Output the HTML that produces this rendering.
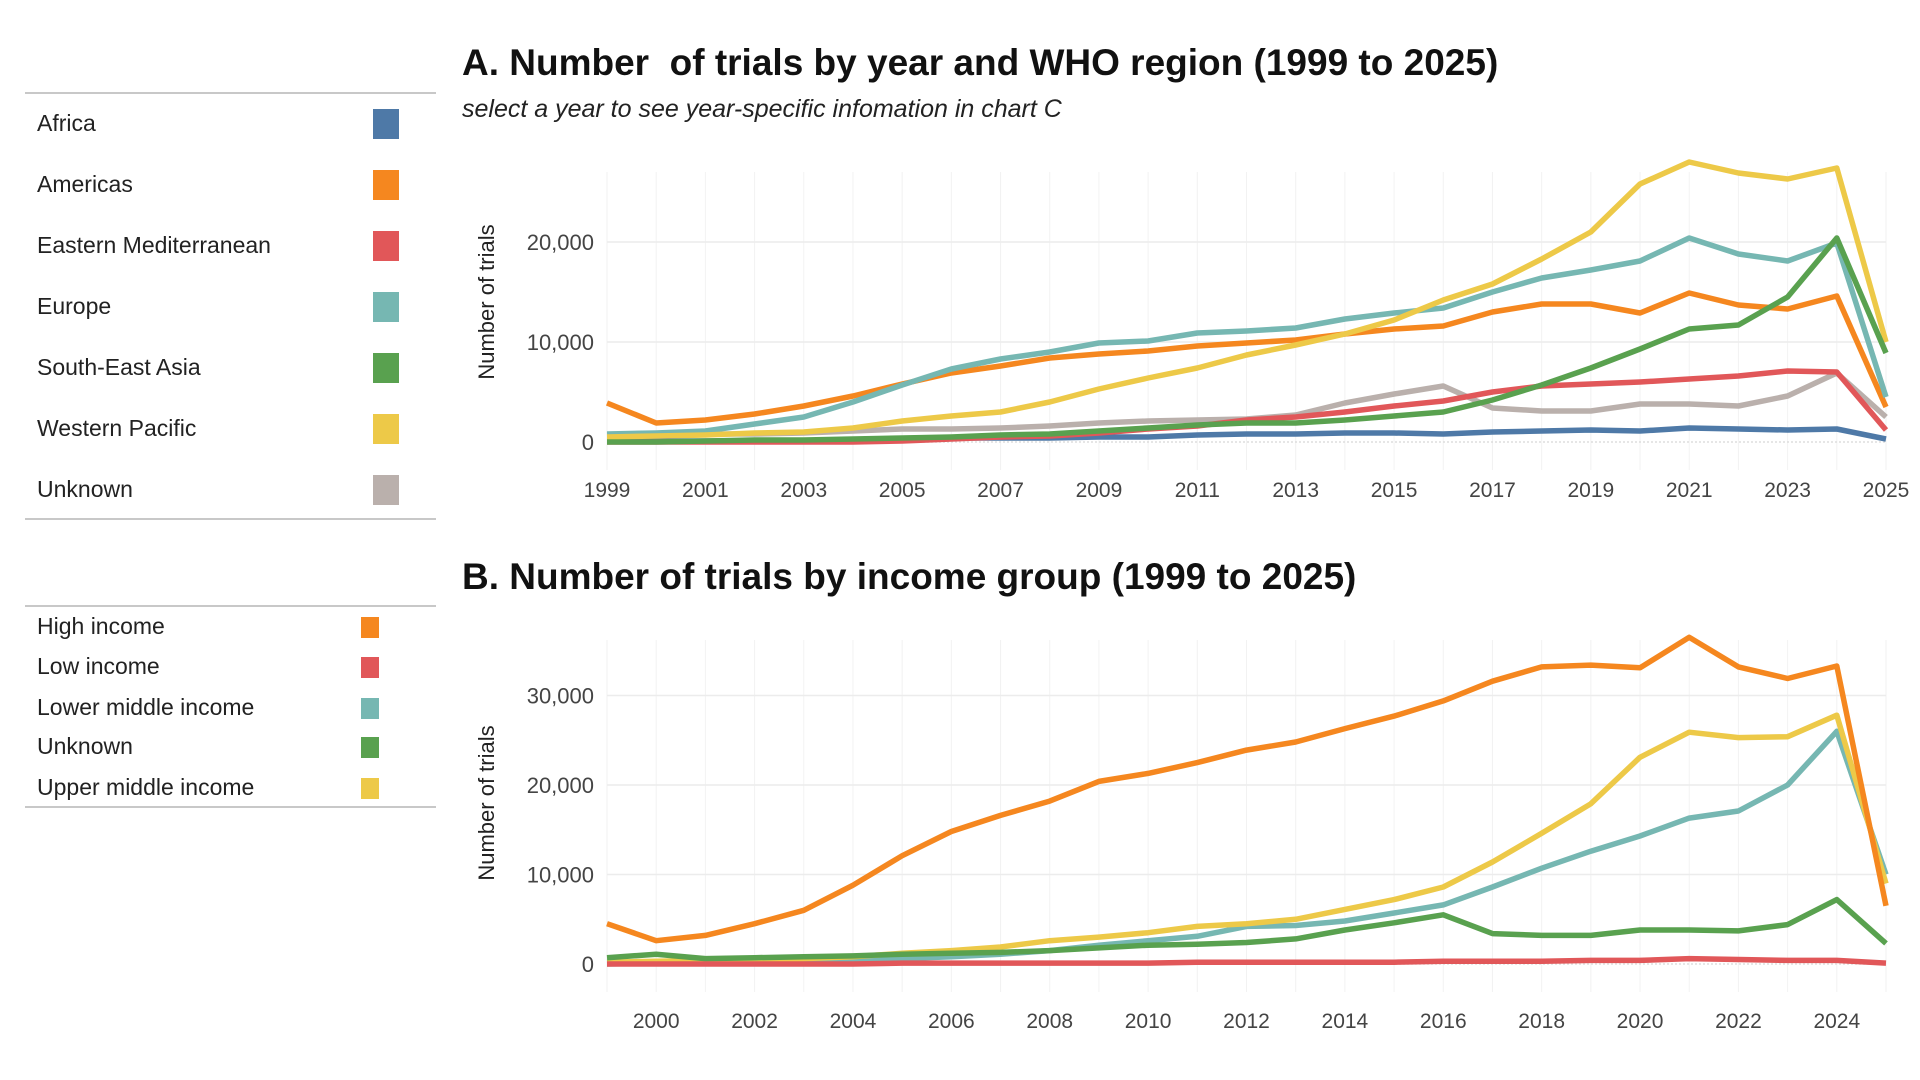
<!DOCTYPE html>
<html><head><meta charset="utf-8"><style>
html,body{margin:0;padding:0;background:#fff;width:1920px;height:1080px;overflow:hidden;font-family:"Liberation Sans",sans-serif;}
#root{position:relative;width:1920px;height:1080px;}
.lg-line{position:absolute;left:25px;width:411px;height:2px;background:#c8c8c8;}
.lg-item{position:absolute;left:37px;font-size:23px;color:#222;}
.sw{position:absolute;}
.title{position:absolute;left:462px;font-size:37px;font-weight:bold;color:#111;z-index:2;}
.sub{position:absolute;left:462px;font-size:25px;font-style:italic;color:#222;z-index:2;}
svg{position:absolute;left:0;top:0;}
</style></head><body><div id="root">
<div class="lg-line" style="top:92px"></div>
<div class="lg-line" style="top:518px"></div>
<div class="lg-line" style="top:605px"></div>
<div class="lg-line" style="top:806px"></div>
<div id="legA"></div>
<div id="legB"></div>
<svg id="svg" width="1920" height="1080"></svg>
<div class="title" style="top:42px">A. Number&nbsp; of trials by year and WHO region (1999 to 2025)</div>
<div class="sub" style="top:95px">select a year to see year-specific infomation in chart C</div>
<div class="title" style="top:556px">B. Number of trials by income group (1999 to 2025)</div>
</div>
<script>
const years=[1999,2000,2001,2002,2003,2004,2005,2006,2007,2008,2009,2010,2011,2012,2013,2014,2015,2016,2017,2018,2019,2020,2021,2022,2023,2024,2025];
const regionNames=["Africa","Americas","Eastern Mediterranean","Europe","South-East Asia","Western Pacific","Unknown"];
const regionColors=["#4e79a7","#f5871f","#e15759","#76b7b2","#59a14f","#edc948","#bab0ac"];
const africa=[0.1,0.1,0.1,0.1,0.1,0.2,0.3,0.4,0.4,0.4,0.5,0.5,0.7,0.8,0.8,0.9,0.9,0.8,1.0,1.1,1.2,1.1,1.4,1.3,1.2,1.3,0.3];
const americas=[3.9,1.9,2.2,2.8,3.6,4.6,5.8,6.9,7.6,8.4,8.8,9.1,9.6,9.9,10.2,10.8,11.3,11.6,13.0,13.8,13.8,12.9,14.9,13.7,13.3,14.6,3.5];
const eastMed=[0,0,0,0,0,0,0.1,0.3,0.5,0.6,0.9,1.3,1.6,2.2,2.5,3.0,3.6,4.1,5.0,5.6,5.8,6.0,6.3,6.6,7.1,7.0,1.2];
const europe=[0.8,0.9,1.1,1.8,2.5,4.0,5.7,7.3,8.3,9.0,9.9,10.1,10.9,11.1,11.4,12.3,12.9,13.4,15.0,16.4,17.2,18.1,20.4,18.8,18.1,19.9,4.5];
const seAsia=[0,0,0.1,0.2,0.2,0.3,0.4,0.5,0.7,0.8,1.1,1.4,1.7,1.9,1.9,2.2,2.6,3.0,4.2,5.7,7.4,9.3,11.3,11.7,14.5,20.4,8.9];
const westPac=[0.5,0.6,0.7,0.9,1.0,1.4,2.1,2.6,3.0,4.0,5.3,6.4,7.4,8.7,9.7,10.8,12.2,14.2,15.8,18.3,21.0,25.8,28.0,26.9,26.3,27.4,10.0];
const unknownA=[0.7,0.8,0.8,0.8,0.9,1.1,1.3,1.3,1.4,1.6,1.9,2.1,2.2,2.3,2.7,3.9,4.8,5.6,3.4,3.1,3.1,3.8,3.8,3.6,4.6,6.9,2.5];
const incomeNames=["High income","Low income","Lower middle income","Unknown","Upper middle income"];
const incomeColors=["#f5871f","#e15759","#76b7b2","#59a14f","#edc948"];
const highInc=[4.5,2.6,3.2,4.5,6.0,8.8,12.1,14.8,16.6,18.2,20.4,21.3,22.5,23.9,24.8,26.3,27.7,29.4,31.6,33.2,33.4,33.1,36.5,33.2,31.9,33.3,6.5];
const lowInc=[0,0,0,0,0,0,0.1,0.1,0.1,0.1,0.1,0.1,0.2,0.2,0.2,0.2,0.2,0.3,0.3,0.3,0.4,0.4,0.6,0.5,0.4,0.4,0.1];
const lowerMid=[0,0.1,0.2,0.3,0.4,0.5,0.6,0.8,1.1,1.5,2.1,2.6,3.1,4.2,4.3,4.8,5.7,6.6,8.6,10.7,12.6,14.3,16.3,17.1,20.0,26.0,10.0];
const unknownB=[0.7,1.1,0.6,0.7,0.8,0.9,1.1,1.2,1.3,1.5,1.8,2.1,2.2,2.4,2.8,3.8,4.6,5.5,3.4,3.2,3.2,3.8,3.8,3.7,4.4,7.2,2.3];
const upperMid=[0.2,0.3,0.4,0.5,0.6,0.8,1.2,1.5,1.9,2.6,3.0,3.5,4.2,4.5,5.0,6.1,7.2,8.6,11.4,14.6,17.9,23.1,25.9,25.3,25.4,27.8,9.0];
const ticksA=[0,10000,20000];
const ticksB=[0,10000,20000,30000];
const xLabelsA=[1999,2001,2003,2005,2007,2009,2011,2013,2015,2017,2019,2021,2023,2025];
const xLabelsB=[2000,2002,2004,2006,2008,2010,2012,2014,2016,2018,2020,2022,2024];

const NS="http://www.w3.org/2000/svg";
const svg=document.getElementById('svg');
function mk(tag,attrs,parent){const e=document.createElementNS(NS,tag);for(const k in attrs)e.setAttribute(k,attrs[k]);(parent||svg).appendChild(e);return e;}
const x0=607,x1=1886;
function xs(y){return x0+(y-1999)*(x1-x0)/26;}

function chart(id,zeroY,pxPer10k,plotTop,ticks,xLabels,labelY,series,colors,names,titleY){
  const g=mk('g',{});
  
  
  const ys=v=>zeroY-v*1000*pxPer10k/10000;
  for(let y=1999;y<=2025;y++){
    const l=mk('line',{x1:xs(y),x2:xs(y),y1:plotTop,y2:zeroY+28,stroke:'#f2f2f2','stroke-width':1},g);
    
    
  }
  ticks.forEach(t=>{
    const yy=zeroY-t*pxPer10k/10000;
    const l=mk('line',{x1:x0,x2:x1,y1:yy,y2:yy,stroke:t===0?'#ddd':'#ececec','stroke-width':1.5,'stroke-dasharray':t===0?'2,2':''},g);
    
    
    const tx=mk('text',{x:594,y:yy+8,'text-anchor':'end','font-size':22,fill:'#444','font-family':'Liberation Sans, sans-serif'},g);
    tx.textContent=t.toLocaleString('en-US');
    
    
  });
  xLabels.forEach(yr=>{
    const tx=mk('text',{x:xs(yr),y:labelY,'text-anchor':'middle','font-size':21,fill:'#444','font-family':'Liberation Sans, sans-serif'},g);
    tx.textContent=yr;
    
    
  });
  const at=mk('text',{x:0,y:0,transform:`translate(494,${titleY}) rotate(-90)`,'text-anchor':'middle','font-size':22,fill:'#222','font-family':'Liberation Sans, sans-serif'},g);
  at.textContent='Number of trials';
  
  
  series.forEach((s,i)=>{
    const d=s.map((v,j)=>(j?'L':'M')+xs(years[j]).toFixed(1)+','+ys(v).toFixed(1)).join(' ');
    const p=mk('path',{d:d,fill:'none',stroke:colors[i],'stroke-width':5.5,'stroke-linejoin':'round'},g);
    
    
  });
}
chart('chart-a-regions',442,100,172,ticksA,xLabelsA,497,
  [unknownA,africa,eastMed,americas,europe,westPac,seAsia],
  ["#bab0ac","#4e79a7","#e15759","#f5871f","#76b7b2","#edc948","#59a14f"],
  ["unknown","africa","eastern-mediterranean","americas","europe","western-pacific","south-east-asia"],302);
chart('chart-b-income',964,89.5,640,ticksB,xLabelsB,1028,
  [lowerMid,upperMid,unknownB,highInc,lowInc],
  ["#76b7b2","#edc948","#59a14f","#f5871f","#e15759"],
  ["lower-middle-income","upper-middle-income","unknown","high-income","low-income"],803);

function legend(el,names,colors,tops,sx,ss){
  const c=document.getElementById(el);
  names.forEach((n,i)=>{
    const t=document.createElement('div');t.className='lg-item';t.style.top=(tops[i]-14)+'px';t.textContent=n;
    
    
    c.appendChild(t);
    const s=document.createElement('div');s.className='sw';
    s.style.cssText=`left:${sx}px;top:${tops[i]-ss/2}px;width:${ss*0.85}px;height:${ss}px;background:${colors[i]}`;
    
    
    c.appendChild(s);
  });
}
legend('legA',regionNames,regionColors,[124,185,246,307,368,429,490],373,30);
legend('legB',incomeNames,incomeColors,[627,667,708,747,788],361,21);
</script></body></html>
